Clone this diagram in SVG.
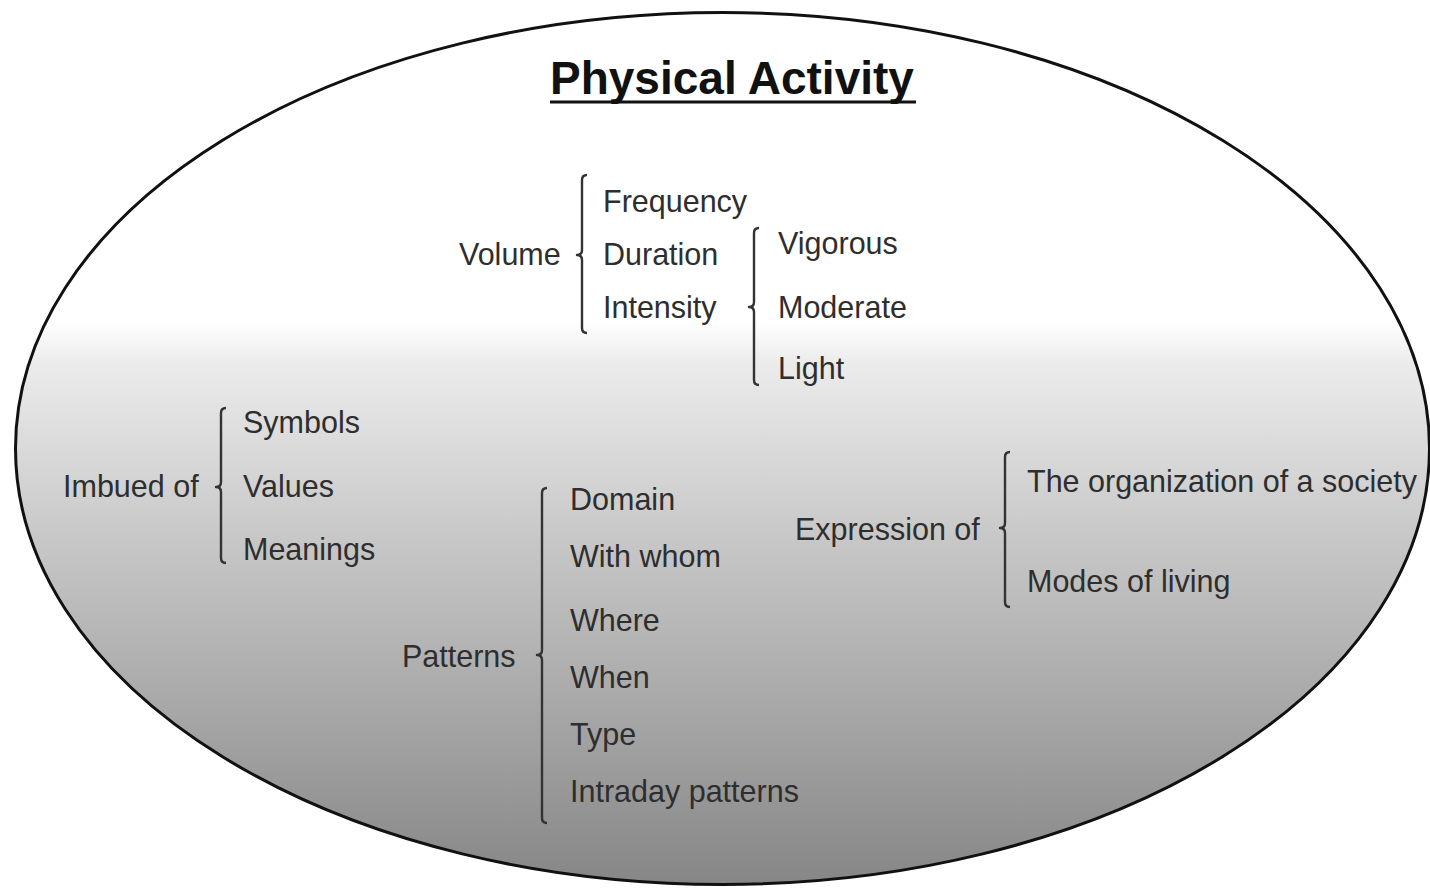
<svg xmlns="http://www.w3.org/2000/svg" width="1430" height="888" viewBox="0 0 1430 888">
<style>
.lbl{font-family:"Liberation Sans",Arial,sans-serif;font-size:30.5px;fill:#2e2e2e}
.title{font-family:"Liberation Sans",Arial,sans-serif;font-size:46px;font-weight:bold;fill:#111}
.br{fill:none;stroke:#333;stroke-width:2.4;stroke-linejoin:round}
</style>
<defs>
<linearGradient id="bg" gradientUnits="userSpaceOnUse" x1="0" y1="12" x2="0" y2="885">
<stop offset="0" stop-color="#ffffff"/>
<stop offset="0.355" stop-color="#ffffff"/>
<stop offset="0.40" stop-color="#ececec"/>
<stop offset="0.6" stop-color="#c8c8c8"/>
<stop offset="1" stop-color="#868686"/>
</linearGradient>
</defs>
<rect width="1430" height="888" fill="#ffffff"/>
<g id="boundary">
<ellipse cx="722.5" cy="448.5" rx="707" ry="436" fill="url(#bg)" stroke="#111" stroke-width="3"/>
</g>
<g id="title">
<text class="title" x="550" y="94">Physical Activity</text>
<line x1="550" y1="102" x2="916" y2="102" stroke="#111" stroke-width="3"/>
</g>
<g id="connectors">
<path id="br-volume" class="br" d="M587 175 Q582 175 582 180 L582 250 Q582 255 577 255 Q582 255 582 260 L582 328 Q582 333 587 333"/>
<path id="br-intensity" class="br" d="M759 228 Q754 228 754 233 L754 302 Q754 307 749 307 Q754 307 754 312 L754 380 Q754 385 759 385"/>
<path id="br-imbued" class="br" d="M226 408 Q221 408 221 413 L221 482 Q221 487 216 487 Q221 487 221 492 L221 558 Q221 563 226 563"/>
<path id="br-patterns" class="br" d="M547 488 Q542 488 542 493 L542 650 Q542 655 537 655 Q542 655 542 660 L542 818 Q542 823 547 823"/>
<path id="br-expression" class="br" d="M1010 452 Q1005 452 1005 457 L1005 523 Q1005 528 1000 528 Q1005 528 1005 533 L1005 602 Q1005 607 1010 607"/>
</g>
<g id="volume"><text class="lbl" x="459" y="265">Volume</text></g>
<g id="frequency"><text class="lbl" x="603" y="212">Frequency</text></g>
<g id="duration"><text class="lbl" x="603" y="265">Duration</text></g>
<g id="intensity"><text class="lbl" x="603" y="318">Intensity</text></g>
<g id="vigorous"><text class="lbl" x="778" y="254">Vigorous</text></g>
<g id="moderate"><text class="lbl" x="778" y="318">Moderate</text></g>
<g id="light"><text class="lbl" x="778" y="379">Light</text></g>
<g id="imbued"><text class="lbl" x="63" y="497">Imbued of</text></g>
<g id="symbols"><text class="lbl" x="243" y="433">Symbols</text></g>
<g id="values"><text class="lbl" x="243" y="497">Values</text></g>
<g id="meanings"><text class="lbl" x="243" y="560">Meanings</text></g>
<g id="patterns"><text class="lbl" x="402" y="667">Patterns</text></g>
<g id="domain"><text class="lbl" x="570" y="510">Domain</text></g>
<g id="withwhom"><text class="lbl" x="570" y="567">With whom</text></g>
<g id="where"><text class="lbl" x="570" y="631">Where</text></g>
<g id="when"><text class="lbl" x="570" y="688">When</text></g>
<g id="type"><text class="lbl" x="570" y="745">Type</text></g>
<g id="intraday"><text class="lbl" x="570" y="802">Intraday patterns</text></g>
<g id="expression"><text class="lbl" x="795" y="540">Expression of</text></g>
<g id="organization"><text class="lbl" x="1027" y="492">The organization of a society</text></g>
<g id="modes"><text class="lbl" x="1027" y="592">Modes of living</text></g>
</svg>
